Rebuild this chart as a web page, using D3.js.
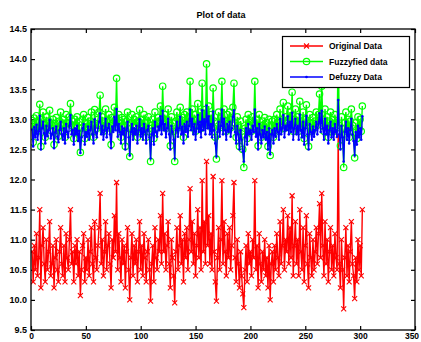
<!DOCTYPE html>
<html>
<head>
<meta charset="utf-8">
<script src="https://cdnjs.cloudflare.com/ajax/libs/d3/7.8.5/d3.min.js"></script>
<style>
  body { margin: 0; background: #fff; }
  svg { display: block; }
  text { font-family: "Liberation Sans", Arial, sans-serif; }
</style>
</head>
<body>
<div id="chart"></div>
<script>
// values (index 1..302)
const original = [
  10.8, 10.3, 10.9, 10.5, 11.1, 10.4, 10.7, 11.5, 10.2, 10.9, 11.2, 10.6, 10.3, 11.0, 10.5, 10.8, 11.3, 10.4, 10.6, 10.9,
  10.2, 10.7, 11.0, 10.5, 10.3, 10.8, 11.2, 10.6, 10.4, 10.9, 10.3, 11.1, 10.7, 10.5, 11.0, 11.5, 10.6, 10.8, 10.3, 10.9,
  10.6, 11.0, 10.4, 10.8, 10.07, 10.5, 10.9, 11.1, 10.3, 10.7, 10.5, 11.0, 10.4, 10.8, 11.2, 10.6, 10.3, 11.3, 10.7, 10.5,
  10.9, 11.2, 11.77, 10.6, 11.0, 10.4, 10.8, 11.3, 10.5, 10.9, 11.1, 10.6, 10.2, 11.0, 10.7, 11.4, 10.8, 11.95, 10.5, 11.1,
  10.7, 10.3, 11.0, 10.6, 10.9, 10.2, 10.8, 11.2, 10.5, 10.0, 10.7, 11.1, 10.4, 10.9, 10.6, 11.0, 10.3, 10.8, 11.3, 10.5,
  10.9, 10.4, 11.1, 10.7, 10.3, 10.8, 11.0, 10.5, 9.98, 10.6, 10.9, 10.3, 11.2, 10.7, 10.5, 11.0, 10.8, 11.4, 10.6, 11.77,
  10.8, 11.1, 10.5, 10.9, 11.3, 10.6, 10.2, 11.0, 10.7, 10.4, 9.95, 10.8, 11.2, 10.5, 10.9, 11.4, 10.6, 11.0, 10.3, 11.1,
  10.7, 11.2, 10.5, 11.0, 11.85, 10.8, 11.3, 10.6, 11.1, 10.4, 10.9, 11.5, 10.7, 11.2, 10.5, 11.98, 10.8, 11.3, 10.6, 12.3,
  10.9, 11.4, 10.6, 11.1, 10.5, 12.05, 10.8, 10.3, 9.98, 10.7, 11.2, 10.5, 11.0, 11.98, 10.6, 11.3, 10.8, 10.4, 11.1, 10.7,
  11.2, 10.5, 10.9, 11.4, 11.95, 10.7, 10.3, 11.0, 10.6, 10.2, 10.8, 10.4, 10.1, 9.87, 10.5, 10.9, 10.3, 11.1, 10.6, 10.8,
  10.4, 11.0, 10.7, 11.98, 10.5, 10.9, 10.2, 11.1, 10.6, 10.3, 10.8, 10.5, 11.0, 10.4, 10.7, 10.2, 10.9, 10.0, 10.6, 10.8,
  10.3, 10.9, 10.5, 11.1, 10.7, 10.4, 11.3, 10.6, 10.9, 11.5, 10.5, 11.0, 10.8, 11.4, 10.6, 11.2, 10.7, 11.73, 10.4, 10.9,
  11.3, 10.6, 11.0, 10.4, 11.5, 10.8, 10.5, 11.2, 10.3, 10.9, 11.4, 10.6, 10.2, 11.1, 10.7, 10.4, 11.0, 10.5, 10.8, 11.2,
  10.6, 11.1, 11.6, 10.7, 11.77, 10.9, 10.4, 11.3, 10.6, 11.0, 10.3, 10.8, 11.2, 10.5, 10.9, 10.4, 11.1, 10.7, 10.5, 12.73,
  10.6, 10.2, 11.0, 10.5, 9.85, 10.7, 11.2, 10.4, 10.9, 10.3, 10.8, 11.3, 10.6, 10.4, 10.02, 10.7, 10.3, 11.0, 10.5, 10.9, 10.4, 11.5
];
const fuzzyfied = [
  12.98, 12.62, 13.02, 12.85, 13.06, 12.8, 12.95, 13.25, 12.55, 13.0, 13.12, 12.92, 12.7, 13.04, 12.86, 12.97, 13.15, 12.82, 12.9, 13.0,
  12.58, 12.93, 13.03, 12.86, 12.72, 12.97, 13.12, 12.9, 12.8, 13.0, 12.7, 13.08, 12.94, 12.85, 13.04, 13.26, 12.9, 12.97, 12.68, 13.0,
  12.9, 13.04, 12.78, 12.96, 12.45, 12.85, 13.0, 13.08, 12.68, 12.94, 12.86, 13.03, 12.8, 12.97, 13.12, 12.9, 12.7, 13.16, 12.93, 12.85,
  13.0, 13.12, 13.4, 12.9, 13.04, 12.8, 12.97, 13.17, 12.85, 13.0, 13.08, 12.9, 12.58, 13.03, 12.94, 13.2, 12.97, 13.68, 12.86, 13.08,
  12.94, 12.7, 13.03, 12.9, 13.0, 12.55, 12.97, 13.12, 12.85, 12.38, 12.94, 13.08, 12.8, 13.0, 12.9, 13.04, 12.7, 12.97, 13.16, 12.86,
  13.0, 12.8, 13.08, 12.94, 12.7, 12.97, 13.04, 12.85, 12.3, 12.9, 13.0, 12.68, 13.12, 12.94, 12.86, 13.03, 12.97, 13.22, 12.9, 13.55,
  12.97, 13.08, 12.85, 13.0, 13.17, 12.9, 12.56, 13.04, 12.94, 12.8, 12.3, 12.97, 13.12, 12.86, 13.0, 13.2, 12.9, 13.03, 12.7, 13.08,
  12.94, 13.12, 12.86, 13.04, 13.63, 12.97, 13.17, 12.9, 13.08, 12.8, 13.0, 13.26, 12.94, 13.12, 12.85, 13.6, 12.97, 13.16, 12.9, 13.92,
  13.0, 13.22, 12.9, 13.08, 12.85, 13.52, 12.97, 12.7, 12.34, 12.94, 13.12, 12.86, 13.04, 13.63, 12.9, 13.17, 12.97, 12.8, 13.08, 12.94,
  13.12, 12.86, 13.0, 13.2, 13.6, 12.94, 12.7, 13.04, 12.9, 12.55, 12.97, 12.8, 12.5, 12.2, 12.85, 13.0, 12.68, 13.08, 12.9, 12.97,
  12.8, 13.04, 12.94, 13.63, 12.86, 13.0, 12.56, 13.08, 12.9, 12.7, 12.97, 12.85, 13.03, 12.8, 12.94, 12.55, 13.0, 12.4, 12.9, 12.97,
  12.7, 13.0, 12.86, 13.08, 12.94, 12.8, 13.17, 12.9, 13.0, 13.28, 12.85, 13.04, 12.97, 13.22, 12.9, 13.12, 12.94, 13.45, 12.8, 13.0,
  13.17, 12.9, 13.04, 12.8, 13.3, 12.97, 12.85, 13.12, 12.68, 13.0, 13.24, 12.9, 12.55, 13.08, 12.94, 12.8, 13.03, 12.86, 12.97, 13.12,
  12.9, 13.08, 13.42, 12.94, 13.55, 13.0, 12.8, 13.17, 12.9, 13.04, 12.7, 12.97, 13.12, 12.85, 13.0, 12.8, 13.08, 12.94, 12.86, 14.15,
  12.9, 12.56, 13.04, 12.85, 12.2, 12.94, 13.12, 12.8, 13.0, 12.7, 12.97, 13.17, 12.9, 12.78, 12.36, 12.94, 12.68, 13.04, 12.85, 13.0, 12.8, 13.22
];
const defuzzy = [
  12.83, 12.55, 12.87, 12.7, 12.91, 12.66, 12.8, 13.06, 12.5, 12.85, 12.96, 12.77, 12.6, 12.89, 12.72, 12.82, 12.99, 12.68, 12.75, 12.85,
  12.52, 12.78, 12.88, 12.71, 12.62, 12.82, 12.96, 12.75, 12.66, 12.85, 12.6, 12.92, 12.79, 12.7, 12.89, 13.07, 12.75, 12.82, 12.58, 12.85,
  12.75, 12.89, 12.64, 12.81, 12.44, 12.7, 12.85, 12.92, 12.58, 12.79, 12.71, 12.88, 12.66, 12.82, 12.96, 12.75, 12.6, 13.0, 12.78, 12.7,
  12.85, 12.96, 13.1, 12.75, 12.89, 12.66, 12.82, 13.01, 12.7, 12.85, 12.92, 12.75, 12.52, 12.88, 12.79, 13.04, 12.82, 13.17, 12.71, 12.92,
  12.79, 12.6, 12.88, 12.75, 12.85, 12.5, 12.82, 12.96, 12.7, 12.4, 12.79, 12.92, 12.66, 12.85, 12.75, 12.89, 12.6, 12.82, 13.0, 12.71,
  12.85, 12.66, 12.92, 12.79, 12.6, 12.82, 12.89, 12.7, 12.35, 12.75, 12.85, 12.58, 12.96, 12.79, 12.71, 12.88, 12.82, 13.05, 12.75, 13.14,
  12.82, 12.92, 12.7, 12.85, 13.01, 12.75, 12.5, 12.89, 12.79, 12.66, 12.35, 12.82, 12.96, 12.71, 12.85, 13.04, 12.75, 12.88, 12.6, 12.92,
  12.79, 12.96, 12.71, 12.89, 13.16, 12.82, 13.01, 12.75, 12.92, 12.66, 12.85, 13.07, 12.79, 12.96, 12.7, 13.15, 12.82, 13.0, 12.75, 13.23,
  12.85, 13.05, 12.75, 12.92, 12.7, 13.13, 12.82, 12.6, 12.38, 12.79, 12.96, 12.71, 12.89, 13.16, 12.75, 13.01, 12.82, 12.66, 12.92, 12.79,
  12.96, 12.71, 12.85, 13.04, 13.15, 12.79, 12.6, 12.89, 12.75, 12.5, 12.82, 12.66, 12.47, 12.3, 12.7, 12.85, 12.58, 12.92, 12.75, 12.82,
  12.66, 12.89, 12.79, 13.16, 12.71, 12.85, 12.5, 12.92, 12.75, 12.6, 12.82, 12.7, 12.88, 12.66, 12.79, 12.5, 12.85, 12.42, 12.75, 12.82,
  12.6, 12.85, 12.71, 12.92, 12.79, 12.66, 13.01, 12.75, 12.85, 13.07, 12.7, 12.89, 12.82, 13.05, 12.75, 12.96, 12.79, 13.11, 12.66, 12.85,
  13.01, 12.75, 12.89, 12.66, 13.08, 12.82, 12.7, 12.96, 12.58, 12.85, 13.06, 12.75, 12.5, 12.92, 12.79, 12.66, 12.88, 12.71, 12.82, 12.96,
  12.75, 12.92, 13.1, 12.79, 13.14, 12.85, 12.66, 13.01, 12.75, 12.89, 12.6, 12.82, 12.96, 12.7, 12.85, 12.66, 12.92, 12.79, 12.71, 13.32,
  12.75, 12.5, 12.89, 12.7, 12.3, 12.79, 12.96, 12.66, 12.85, 12.6, 12.82, 13.01, 12.75, 12.64, 12.4, 12.79, 12.58, 12.89, 12.7, 12.85, 12.66, 13.05
];
const seriesNames = ["Original Data", "Fuzzyfied data", "Defuzzy Data"];
const xTicks = [0, 50, 100, 150, 200, 250, 300, 350];
const yTicks = [9.5, 10, 10.5, 11, 11.5, 12, 12.5, 13, 13.5, 14, 14.5];

const W = 421, H = 342;
const margin = {left: 31, top: 29, right: 6, bottom: 12};
const plotW = W - margin.left - margin.right;
const plotH = H - margin.top - margin.bottom;

const svg = d3.select("#chart").append("svg")
  .attr("width", W)
  .attr("height", H);

const x = d3.scaleLinear().domain([0, 350]).range([margin.left, margin.left + plotW]);
const y = d3.scaleLinear().domain([9.5, 14.5]).range([margin.top + plotH, margin.top]);

svg.append("defs").append("clipPath").attr("id", "clip")
  .append("rect")
  .attr("x", margin.left).attr("y", margin.top)
  .attr("width", plotW).attr("height", plotH);

// title
svg.append("text")
  .attr("x", margin.left + plotW / 2 - 2)
  .attr("y", 18)
  .attr("text-anchor", "middle")
  .style("font-size", "9px")
  .style("font-weight", "bold")
  .text("Plot of data");

// axes, MATLAB style ticks pointing inwards
const tickLen = 4;
const fmtY = d3.format(".1f");

svg.append("g")
  .attr("class", "x-axis")
  .attr("transform", `translate(0,${margin.top + plotH})`)
  .call(d3.axisBottom(x).tickValues(xTicks).tickSize(-tickLen).tickPadding(3).tickFormat(d3.format("d")))
  .call(g => g.select(".domain").remove());
svg.append("g")
  .attr("transform", `translate(0,${margin.top})`)
  .call(d3.axisTop(x).tickValues(xTicks).tickSize(-tickLen).tickFormat(""))
  .call(g => g.select(".domain").remove());
svg.append("g")
  .attr("transform", `translate(${margin.left},0)`)
  .call(d3.axisLeft(y).tickValues(yTicks).tickSize(-tickLen).tickPadding(4).tickFormat(fmtY))
  .call(g => g.select(".domain").remove());
svg.append("g")
  .attr("transform", `translate(${margin.left + plotW},0)`)
  .call(d3.axisRight(y).tickValues(yTicks).tickSize(-tickLen).tickFormat(""))
  .call(g => g.select(".domain").remove());

svg.selectAll(".tick text")
  .style("font-size", "9px")
  .style("font-weight", "bold")
  .attr("fill", "#000")
  .style("font-family", "'Liberation Sans', Arial, sans-serif");
// keep the x labels fully inside the picture
svg.selectAll(".x-axis .tick text").style("font-size", "8.5px");
svg.selectAll(".x-axis .tick text").filter(d => d === 350).attr("dx", -3.5);
svg.selectAll(".tick line").attr("stroke", "#000").attr("stroke-width", 1.2);

const series = [
  {name: seriesNames[0], values: original, color: "#ff0000", marker: "x"},
  {name: seriesNames[1], values: fuzzyfied, color: "#00ff00", marker: "o"},
  {name: seriesNames[2], values: defuzzy, color: "#0000ff", marker: "."}
];

function drawMarker(g, marker, color, cx, cy) {
  if (marker === "x") {
    g.append("path")
      .attr("d", `M${cx - 2.5},${cy - 2.5}L${cx + 2.5},${cy + 2.5}M${cx - 2.5},${cy + 2.5}L${cx + 2.5},${cy - 2.5}`)
      .attr("stroke", color).attr("stroke-width", 1.1).attr("fill", "none");
  } else if (marker === "o") {
    g.append("circle")
      .attr("cx", cx).attr("cy", cy).attr("r", 3.2)
      .attr("stroke", color).attr("stroke-width", 1.2).attr("fill", "none");
  } else {
    g.append("circle")
      .attr("cx", cx).attr("cy", cy).attr("r", 1.3)
      .attr("fill", color);
  }
}

const plot = svg.append("g").attr("clip-path", "url(#clip)");
const line = d3.line().x((d, i) => x(i + 1)).y(d => y(d));

series.forEach(s => {
  plot.append("path")
    .datum(s.values)
    .attr("d", line)
    .attr("fill", "none")
    .attr("stroke", s.color)
    .attr("stroke-width", 1.4);
  const mg = plot.append("g");
  s.values.forEach((v, i) => drawMarker(mg, s.marker, s.color, x(i + 1), y(v)));
});

// frame
svg.append("rect")
  .attr("x", margin.left).attr("y", margin.top)
  .attr("width", plotW).attr("height", plotH)
  .attr("fill", "none").attr("stroke", "#000").attr("stroke-width", 1.3);

// legend
const legend = svg.append("g");
legend.append("rect")
  .attr("x", 282.5).attr("y", 36.5)
  .attr("width", 127).attr("height", 51)
  .attr("fill", "#fff").attr("stroke", "#000").attr("stroke-width", 1.2);
series.forEach((s, i) => {
  const ly = 46 + i * 15.5;
  legend.append("line")
    .attr("x1", 290).attr("x2", 323).attr("y1", ly).attr("y2", ly)
    .attr("stroke", s.color).attr("stroke-width", 1.4);
  drawMarker(legend, s.marker, s.color, 306.5, ly);
  legend.append("text")
    .attr("x", 329).attr("y", ly + 3)
    .style("font-size", "8.5px")
    .style("font-weight", "bold")
    .text(s.name);
});
</script>
</body>
</html>
